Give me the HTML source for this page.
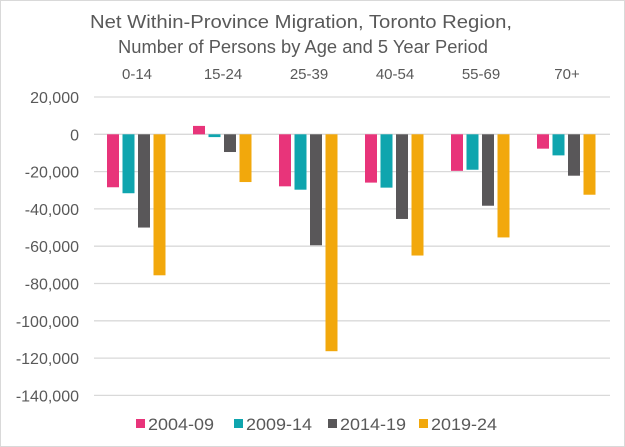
<!DOCTYPE html>
<html><head><meta charset="utf-8"><style>
html,body{margin:0;padding:0;background:#fff;}
svg{display:block;font-family:"Liberation Sans",sans-serif;}
</style></head><body>
<svg id="chart" width="625" height="447" viewBox="0 0 625 447">
<rect x="0.5" y="0.5" width="624" height="446" fill="#fff" stroke="#d9d9d9"/>
<text x="301" y="28" text-anchor="middle" font-size="18" textLength="422" lengthAdjust="spacingAndGlyphs" fill="#595959">Net Within-Province Migration, Toronto Region,</text>
<text x="303" y="53" text-anchor="middle" font-size="18" textLength="370" lengthAdjust="spacingAndGlyphs" fill="#595959">Number of Persons by Age and 5 Year Period</text>
<g id="grid"></g><g id="bars"></g><g id="labels"></g><g id="legend"></g>
</svg>
<script>
const categories = ["0-14","15-24","25-39","40-54","55-69","70+"];
const seriesNames = ["2004-09","2009-14","2014-19","2019-24"];
const s2004 = [-28400, 4500, -27900, -25900, -19600, -7700];
const s2009 = [-31600, -1500, -29700, -28600, -19000, -11300];
const s2014 = [-50000, -9500, -59500, -45400, -38300, -22200];
const s2019 = [-75600, -25600, -116300, -65000, -55300, -32400];
const yTicks = [20000,0,-20000,-40000,-60000,-80000,-100000,-120000,-140000];
const colors = ["#E8347A","#0FA5AE","#595759","#F2A80C"];
const series = [s2004,s2009,s2014,s2019];
const NS="http://www.w3.org/2000/svg";
const x0=94,x1=610,step=37.3;
function y(v){return 134.3 - v/20000*step;}
function gx(i){return x0 + (x1-x0)/categories.length*(i+0.5);}
function mk(tag,attrs,parent){const e=document.createElementNS(NS,tag);for(const k in attrs)e.setAttribute(k,attrs[k]);parent.appendChild(e);return e;}
const grid=document.getElementById('grid'),bars=document.getElementById('bars'),labels=document.getElementById('labels'),legend=document.getElementById('legend');
yTicks.forEach(t=>{
  const l=mk('line',{x1:x0,x2:x1,y1:y(t),y2:y(t),stroke:'#d9d9d9','stroke-width':1.3},grid);
  
  
  const tx=mk('text',{x:79,y:y(t)+6,'text-anchor':'end','font-size':16,fill:'#595959'},labels);
  tx.textContent=t.toLocaleString('en-US');
  
  
});
categories.forEach((c,i)=>{
  const tx=mk('text',{x:gx(i),y:79,'text-anchor':'middle','font-size':15,fill:'#595959'},labels);
  tx.textContent=c;
  
  
  series.forEach((s,j)=>{
    const bx=gx(i)-30+j*15.5;
    const v=s[i];
    const r=mk('rect',{x:bx,y:Math.min(y(v),y(0)),width:12,height:Math.abs(y(v)-y(0)),fill:colors[j]},bars);
    
    
  });
});
const lx=[136,234,328,419];
seriesNames.forEach((n,j)=>{
  const r=mk('rect',{x:lx[j],y:419,width:9,height:9,fill:colors[j]},legend);
  
  
  const t=mk('text',{x:lx[j]+12,y:430,'font-size':17,fill:'#595959',textLength:66,lengthAdjust:'spacingAndGlyphs'},legend);
  t.textContent=n;
  
  
});
</script>
</body></html>
